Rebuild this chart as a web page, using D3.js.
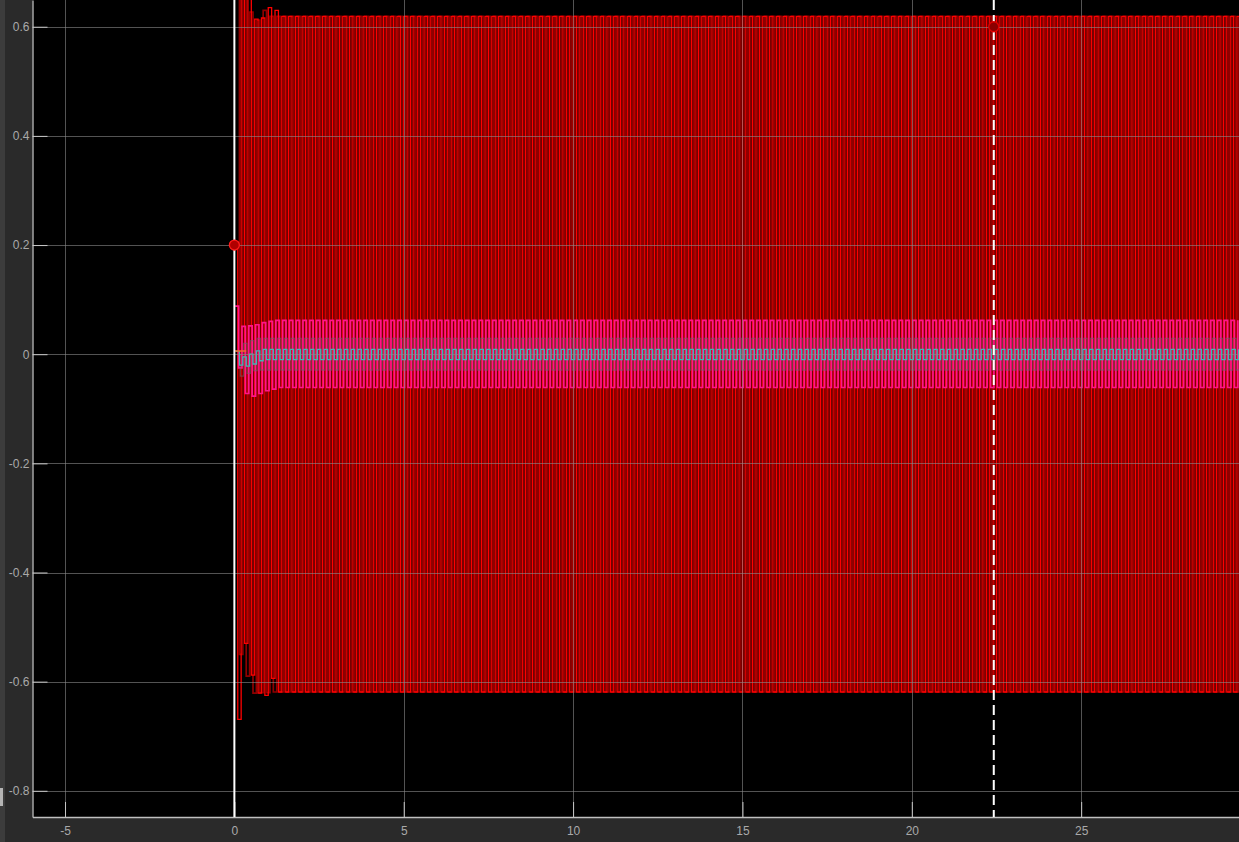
<!DOCTYPE html>
<html>
<head>
<meta charset="utf-8">
<script src="https://cdn.jsdelivr.net/npm/d3@7"></script>
<style>
  html, body { margin: 0; padding: 0; background: #2a2a2a; overflow: hidden; }
  svg { display: block; }
  .tick text { font-family: "Liberation Sans", Arial, sans-serif; font-size: 12px; fill: #a9a9a9; }
</style>
</head>
<body>
<svg id="chart" width="1239" height="842"></svg>
<script>
// ---------------- data ----------------
const xTicks = [-5, 0, 5, 10, 15, 20, 25];
const yTicks = [-0.8, -0.6, -0.4, -0.2, 0, 0.2, 0.4, 0.6];
const xDomain = [-5.96, 29.66];
const yDomain = [-0.848, 0.649];

const stepSize = 0.1;      // spacing of successive extremes (s)
const tEnd = 29.7;

// bright red signal: transient extremes (alternating high / low), then steady level
const redBrightStart = 0.0;
const redBrightTransient = [0.2, -0.669, 0.72, -0.53, 0.66, -0.588, 0.614, -0.621, 0.616, -0.625, 0.635, -0.594, 0.630, -0.619];
const redBrightSteady = [0.619, -0.619];

// dark red signal
const redDarkStart = 0.05;
const redDarkTransient = [0.75, -0.55, 0.72, -0.59, 0.627, -0.621, 0.612, -0.62, 0.63, -0.62];
const redDarkSteady = [0.619, -0.619];

// magenta signal
const pinkStart = 0.025;
const pinkTransient = [0.088, -0.025, 0.051, -0.072, 0.052, -0.077, 0.054, -0.072, 0.058, -0.067, 0.060, -0.064];
const pinkSteady = [0.062, -0.061];

// grey signal
const greyStart = 0.075;
const greyTransient = [0.0, -0.040, 0.020, -0.035, 0.025, -0.030];
const greySteady = [0.029, -0.029];

// cyan signal
const cyanStart = 0.05;
const cyanTransient = [0.005, -0.020, -0.005, -0.022, 0.000, -0.018, 0.006, -0.012];
const cyanSteady = [0.009, -0.010];

// orange initial segment
const orangeT = [0.0, 0.35];
const orangeV = [0.006, 0.006];

// cursors / markers
const cursorSolidX = 0;
const cursorDashedX = 22.42;
const markerPoints = [{t: 0, v: 0.2, fill: "#b00000", stroke: "#ff1a1a"},
                      {t: 22.42, v: 0.6, fill: "#8b0000", stroke: "#e00000"}];

// ---------------- layout ----------------
const svg = d3.select("#chart");
const W = 1239, H = 842;
const plot = {left: 32.5, right: 1239, top: 0, bottom: 817};

const x = d3.scaleLinear().domain(xDomain).range([plot.left, plot.right]);
const y = d3.scaleLinear().domain(yDomain).range([plot.bottom, plot.top]);

// background pieces
svg.append("rect").attr("x", 0).attr("y", 0).attr("width", W).attr("height", H).attr("fill", "#2a2a2a");
svg.append("rect").attr("x", 0).attr("y", 0).attr("width", 5).attr("height", H).attr("fill", "#3c3c3c");
svg.append("rect").attr("x", 0).attr("y", 788).attr("width", 3).attr("height", 18).attr("fill", "#b4b4b4");
svg.append("rect").attr("x", plot.left).attr("y", plot.top)
  .attr("width", plot.right - plot.left).attr("height", plot.bottom - plot.top).attr("fill", "#000");

svg.append("defs").append("clipPath").attr("id", "clip")
  .append("rect").attr("x", plot.left).attr("y", plot.top)
  .attr("width", plot.right - plot.left).attr("height", plot.bottom - plot.top);

const g = svg.append("g").attr("clip-path", "url(#clip)");

// build a stepped signal from its listed extremes and its steady level
function buildSeries(start, transient, steady) {
  const pts = [];
  let k = 0;
  for (let t = start; t <= tEnd + 1e-9; t = start + (++k) * stepSize) {
    const v = k < transient.length ? transient[k] : steady[k % 2];
    pts.push([t, v]);
  }
  return pts;
}

const line = d3.line().x(d => x(d[0])).y(d => y(d[1])).curve(d3.curveStepAfter);
const plainLine = d3.line().x(d => x(d[0])).y(d => y(d[1]));

function drawSeries(pts, color, width, opacity) {
  g.append("path").datum(pts).attr("d", line)
    .attr("fill", "none").attr("stroke", color).attr("stroke-width", width)
    .attr("stroke-opacity", opacity);
}

drawSeries(buildSeries(redDarkStart, redDarkTransient, redDarkSteady), "#8e0000", 1.7, 1);
drawSeries(buildSeries(redBrightStart, redBrightTransient, redBrightSteady), "#ff0000", 1.3, 1);
drawSeries(buildSeries(pinkStart, pinkTransient, pinkSteady), "#ff148c", 1.7, 1);
drawSeries(buildSeries(greyStart, greyTransient, greySteady), "#6a6670", 1.3, 0.55);
drawSeries(buildSeries(cyanStart, cyanTransient, cyanSteady), "#46b4b4", 1.3, 1);

g.append("path").datum(orangeT.map((t, i) => [t, orangeV[i]])).attr("d", plainLine)
  .attr("fill", "none").attr("stroke", "#f06a28").attr("stroke-width", 1.5);

// grid (over the data, as in the reference)
const grid = svg.append("g").attr("clip-path", "url(#clip)");
grid.selectAll(".gx").data(xTicks).join("line")
  .attr("x1", d => Math.round(x(d)) + 0.5).attr("x2", d => Math.round(x(d)) + 0.5)
  .attr("y1", plot.top).attr("y2", plot.bottom)
  .attr("stroke", "#8a8a8a").attr("stroke-opacity", 0.6).attr("stroke-width", 1);
grid.selectAll(".gy").data(yTicks).join("line")
  .attr("y1", d => Math.round(y(d)) + 0.5).attr("y2", d => Math.round(y(d)) + 0.5)
  .attr("x1", plot.left).attr("x2", plot.right)
  .attr("stroke", "#8a8a8a").attr("stroke-opacity", 0.6).attr("stroke-width", 1);

// axes
const fmt = d => String(+d.toFixed(1));
const yAxis = svg.append("g").attr("transform", `translate(${plot.left},0)`)
  .call(d3.axisLeft(y).tickValues(yTicks).tickFormat(fmt).tickSize(-15).tickPadding(3).tickSizeOuter(0));
const xAxis = svg.append("g").attr("transform", `translate(0,${plot.bottom})`)
  .call(d3.axisBottom(x).tickValues(xTicks).tickFormat(fmt).tickSize(-15).tickPadding(9).tickSizeOuter(0));
[yAxis, xAxis].forEach(a => {
  a.select(".domain").attr("stroke", "#c0c0c0").attr("stroke-width", 1.3);
  a.selectAll(".tick line").attr("stroke", "#c8c8c8").attr("stroke-width", 1);
});

// cursors
svg.append("line").attr("x1", x(cursorSolidX)).attr("x2", x(cursorSolidX))
  .attr("y1", plot.top).attr("y2", plot.bottom)
  .attr("stroke", "#ffffff").attr("stroke-width", 2);
svg.append("line").attr("x1", x(cursorDashedX)).attr("x2", x(cursorDashedX))
  .attr("y1", plot.top).attr("y2", plot.bottom)
  .attr("stroke", "#ffffff").attr("stroke-width", 2).attr("stroke-dasharray", "10,5");

// markers
svg.selectAll(".marker").data(markerPoints).join("circle")
  .attr("cx", d => x(d.t)).attr("cy", d => y(d.v)).attr("r", 5)
  .attr("fill", d => d.fill).attr("stroke", d => d.stroke).attr("stroke-width", 1.3);
</script>
</body>
</html>
